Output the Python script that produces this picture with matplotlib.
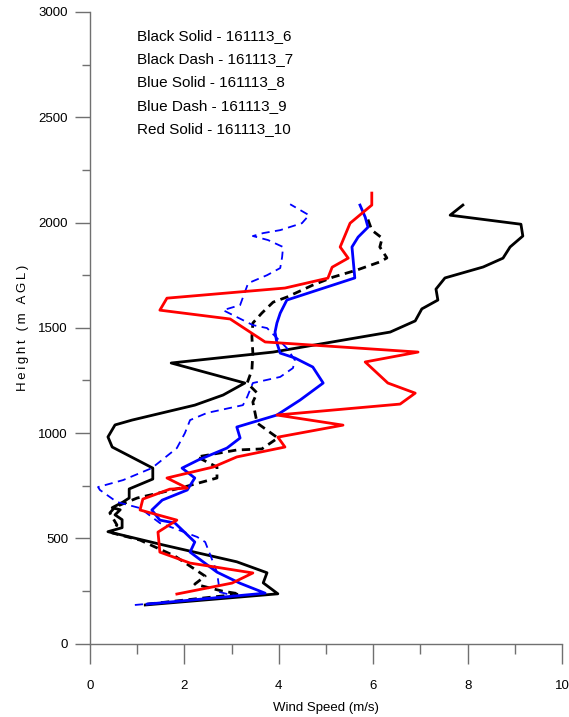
import matplotlib.pyplot as plt
from matplotlib.ticker import MultipleLocator

plt.rcParams['font.family'] = ['Liberation Sans', 'DejaVu Sans']

# sondeo 161113_6 (negro continuo)
speed_6 = [1.17, 3.98, 3.67, 3.75, 3.11, 1.53, 0.38, 0.68, 0.68, 0.53, 0.64, 0.47, 0.70, 0.83,
           0.83, 1.33, 1.33, 0.47, 0.38, 0.53, 0.89, 2.22, 2.82, 3.28, 1.72, 3.88, 6.36, 6.89,
           7.03, 7.37, 7.33, 7.52, 8.33, 8.75, 8.90, 9.17, 9.13, 7.63, 7.90]
height_6 = [184, 237, 289, 337, 389, 470, 532, 551, 589, 612, 636, 646, 673, 692,
            735, 782, 834, 934, 982, 1039, 1062, 1133, 1181, 1238, 1333, 1385, 1480, 1533,
            1590, 1632, 1684, 1737, 1789, 1831, 1884, 1936, 1992, 2035, 2083]

# sondeo 161113_7 (negro discontinuo)
speed_7 = [1.21, 3.18, 2.80, 2.22, 2.44, 1.80, 1.06, 0.47, 0.57, 0.42, 0.53, 1.00, 1.91, 2.69,
           2.69, 2.27, 3.11, 3.64, 3.98, 3.54, 3.45, 3.54, 3.33, 3.43, 3.45, 3.43, 3.45, 3.64,
           3.88, 4.17, 4.72, 5.15, 5.66, 6.14, 6.29, 6.14, 6.19, 5.97, 5.87]
height_7 = [188, 236, 250, 283, 321, 416, 492, 526, 564, 621, 649, 692, 739, 787,
            839, 887, 920, 925, 977, 1048, 1148, 1191, 1238, 1300, 1380, 1456, 1523, 1570,
            1622, 1646, 1703, 1741, 1775, 1813, 1832, 1884, 1926, 1964, 2026]

# sondeo 161113_8 (azul continuo)
speed_8 = [1.21, 3.71, 3.18, 2.69, 2.12, 2.22, 1.80, 1.48, 1.31, 1.53, 2.06, 2.22, 1.95, 2.29,
           2.90, 3.18, 3.11, 3.96, 4.45, 4.94, 4.72, 4.34, 4.03, 3.96, 3.92, 3.96, 4.03, 4.17,
           5.61, 5.55, 5.68, 5.89, 5.83, 5.72]
height_8 = [188, 240, 287, 340, 435, 483, 573, 587, 635, 682, 730, 787, 834, 872,
            929, 977, 1029, 1086, 1157, 1238, 1314, 1357, 1380, 1428, 1480, 1523, 1570, 1632,
            1737, 1884, 1931, 1978, 2026, 2083]

# sondeo 161113_9 (azul discontinuo)
speed_9 = [0.95, 3.07, 2.75, 2.69, 2.44, 2.27, 1.76, 1.48, 1.06, 0.57, 0.21, 0.17, 0.70, 1.31,
           1.84, 2.01, 2.12, 2.48, 3.24, 3.33, 3.45, 4.03, 4.30, 4.34, 4.17, 3.75, 3.45, 2.82,
           3.18, 3.35, 3.75, 4.03, 4.07, 4.09, 3.77, 3.45, 3.67, 4.03, 4.49, 4.64, 4.24]
height_9 = [184, 227, 245, 340, 483, 507, 550, 573, 644, 673, 730, 744, 777, 834,
            929, 1000, 1062, 1096, 1133, 1172, 1238, 1267, 1309, 1347, 1404, 1499, 1513, 1584,
            1608, 1712, 1750, 1784, 1836, 1884, 1917, 1936, 1950, 1964, 1997, 2035, 2087]

# sondeo 161113_10 (rojo continuo)
speed_10 = [1.84, 3.01, 3.45, 2.12, 1.48, 1.44, 1.84, 1.06, 1.12, 1.69, 2.06, 1.63, 2.61, 3.11,
            4.13, 3.98, 5.36, 3.96, 6.57, 6.89, 6.31, 5.83, 6.95, 3.71, 2.97, 1.48, 1.63, 4.13,
            5.04, 5.13, 5.47, 5.30, 5.51, 5.97, 5.97]
height_10 = [236, 288, 336, 383, 435, 530, 587, 635, 687, 734, 739, 787, 839, 887,
             934, 981, 1038, 1086, 1138, 1190, 1238, 1338, 1385, 1433, 1542, 1584, 1641, 1689,
             1736, 1788, 1831, 1884, 1997, 2083, 2140]

legend_lines = ["Black Solid - 161113_6", "Black Dash - 161113_7", "Blue Solid - 161113_8",
                "Blue Dash - 161113_9", "Red Solid - 161113_10"]

fig = plt.figure(figsize=(5.69, 7.17), dpi=100)
ax = fig.add_axes([0.1582, 0.1022, 0.8295, 0.8811])

ax.plot(speed_6, height_6, color="black", lw=2.0)
ax.plot(speed_7, height_7, color="black", lw=2.0, dashes=(3, 2))
ax.plot(speed_8, height_8, color="blue", lw=2.0)
ax.plot(speed_9, height_9, color="blue", lw=1.3, dashes=(4.5, 3))
ax.plot(speed_10, height_10, color="red", lw=2.0)

ax.set_xlim(0, 10)
ax.set_ylim(0, 3000)

# ejes tipo grapher: solo izquierda y abajo, ticks hacia fuera
for s in ["top", "right"]:
    ax.spines[s].set_visible(False)
for s in ["left", "bottom"]:
    ax.spines[s].set_color("#707070")
    ax.spines[s].set_linewidth(1.0)

ax.xaxis.set_major_locator(MultipleLocator(2))
ax.xaxis.set_minor_locator(MultipleLocator(1))
ax.yaxis.set_major_locator(MultipleLocator(500))
ax.yaxis.set_minor_locator(MultipleLocator(250))
ax.tick_params(axis="x", which="major", direction="out", length=14.4, width=1.0,
               color="#707070", pad=12, labelsize=9.5)
ax.tick_params(axis="x", which="minor", direction="out", length=7.2, width=1.0, color="#707070")
ax.tick_params(axis="y", which="major", direction="out", length=10.8, width=1.0,
               color="#707070", pad=5, labelsize=9.5)
ax.tick_params(axis="y", which="minor", direction="out", length=5.8, width=1.0, color="#707070")

ax.set_xlabel("Wind Speed (m/s)", fontsize=9.5, labelpad=7)
ax.set_ylabel("\u2009".join("Height (m AGL)"), fontsize=9.5, labelpad=7)

# leyenda escrita como texto
for i, t in enumerate(legend_lines):
    fig.text(137 / 569, 1 - (36 + 23.2 * i) / 717, t, fontsize=11, va="center", ha="left")

fig.savefig("out.png", dpi=100)
